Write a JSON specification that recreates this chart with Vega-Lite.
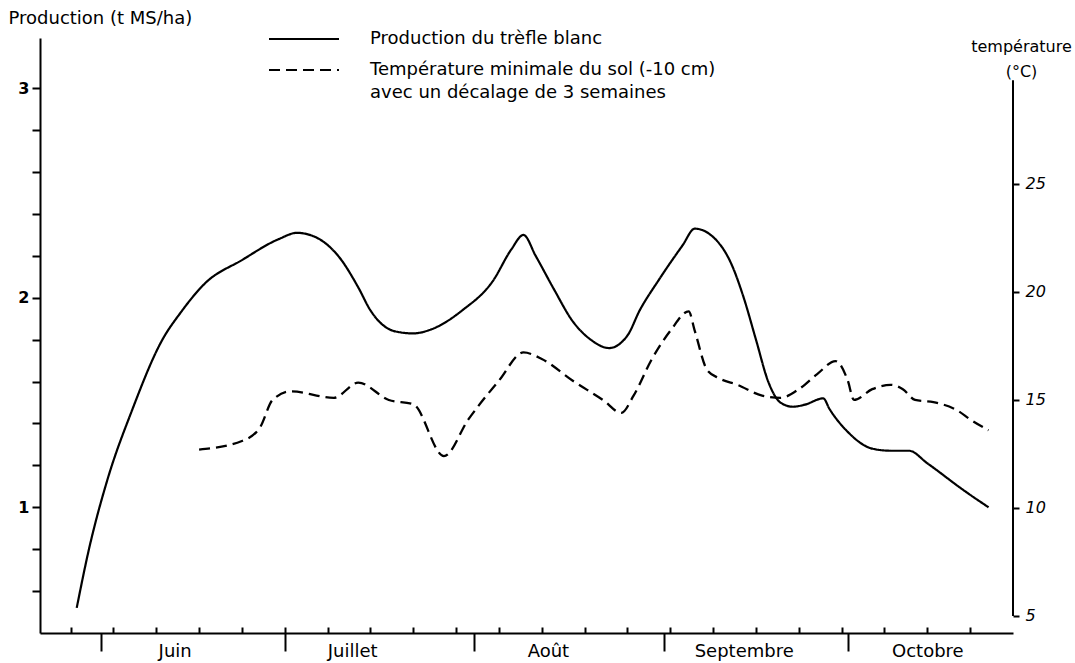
{
  "$schema": "https://vega.github.io/schema/vega-lite/v6.json",
  "width": 973,
  "height": 595,
  "autosize": {"type": "none"},
  "padding": {"left": 40, "top": 38, "right": 62, "bottom": 30},
  "background": "white",
  "config": {
    "view": {"stroke": null},
    "font": "DejaVu Sans",
    "axis": {"domainColor": "black", "tickColor": "black", "labelColor": "black", "titleColor": "black", "domainWidth": 2, "tickWidth": 2, "grid": false, "labelFontSize": 16, "titleFontSize": 18, "titleFontWeight": "normal"}
  },
  "datasets": {
    "production": [
      {"date": "1980-05-28", "production": 0.52},
      {"date": "1980-05-30", "production": 0.80},
      {"date": "1980-06-02", "production": 1.13},
      {"date": "1980-06-06", "production": 1.46},
      {"date": "1980-06-11", "production": 1.80},
      {"date": "1980-06-14", "production": 1.93},
      {"date": "1980-06-18", "production": 2.07},
      {"date": "1980-06-24", "production": 2.18},
      {"date": "1980-06-30", "production": 2.28},
      {"date": "1980-07-03", "production": 2.31},
      {"date": "1980-07-06", "production": 2.29},
      {"date": "1980-07-10", "production": 2.19},
      {"date": "1980-07-13", "production": 2.05},
      {"date": "1980-07-15", "production": 1.94},
      {"date": "1980-07-19", "production": 1.84},
      {"date": "1980-07-22", "production": 1.83},
      {"date": "1980-07-25", "production": 1.85},
      {"date": "1980-07-30", "production": 1.94},
      {"date": "1980-08-04", "production": 2.08},
      {"date": "1980-08-07", "production": 2.23},
      {"date": "1980-08-09", "production": 2.30},
      {"date": "1980-08-11", "production": 2.20},
      {"date": "1980-08-14", "production": 2.04},
      {"date": "1980-08-17", "production": 1.89},
      {"date": "1980-08-20", "production": 1.80},
      {"date": "1980-08-23", "production": 1.76},
      {"date": "1980-08-26", "production": 1.82},
      {"date": "1980-08-28", "production": 1.94},
      {"date": "1980-08-31", "production": 2.08},
      {"date": "1980-09-04", "production": 2.25},
      {"date": "1980-09-06", "production": 2.33},
      {"date": "1980-09-09", "production": 2.29},
      {"date": "1980-09-12", "production": 2.16},
      {"date": "1980-09-14", "production": 2.00},
      {"date": "1980-09-16", "production": 1.80},
      {"date": "1980-09-18", "production": 1.60},
      {"date": "1980-09-20", "production": 1.50},
      {"date": "1980-09-22", "production": 1.48},
      {"date": "1980-09-24", "production": 1.49},
      {"date": "1980-09-27", "production": 1.52},
      {"date": "1980-09-28", "production": 1.47},
      {"date": "1980-10-01", "production": 1.36},
      {"date": "1980-10-05", "production": 1.28},
      {"date": "1980-10-08", "production": 1.27},
      {"date": "1980-10-11", "production": 1.27},
      {"date": "1980-10-14", "production": 1.21},
      {"date": "1980-10-20", "production": 1.08},
      {"date": "1980-10-24", "production": 1.00}
    ],
    "temperature": [
      {"date": "1980-06-17", "temperature": 12.7},
      {"date": "1980-06-24", "temperature": 13.1},
      {"date": "1980-06-27", "temperature": 13.75},
      {"date": "1980-06-29", "temperature": 15.0},
      {"date": "1980-07-02", "temperature": 15.4},
      {"date": "1980-07-09", "temperature": 15.1},
      {"date": "1980-07-13", "temperature": 15.8},
      {"date": "1980-07-18", "temperature": 15.0},
      {"date": "1980-07-22", "temperature": 14.8},
      {"date": "1980-07-27", "temperature": 12.4},
      {"date": "1980-07-31", "temperature": 14.1},
      {"date": "1980-08-05", "temperature": 15.9},
      {"date": "1980-08-09", "temperature": 17.2},
      {"date": "1980-08-12", "temperature": 16.9},
      {"date": "1980-08-17", "temperature": 15.9},
      {"date": "1980-08-22", "temperature": 15.0},
      {"date": "1980-08-25", "temperature": 14.4},
      {"date": "1980-08-27", "temperature": 15.2},
      {"date": "1980-08-30", "temperature": 16.9},
      {"date": "1980-09-02", "temperature": 18.2},
      {"date": "1980-09-05", "temperature": 19.1},
      {"date": "1980-09-06", "temperature": 18.2},
      {"date": "1980-09-08", "temperature": 16.4},
      {"date": "1980-09-10", "temperature": 16.0},
      {"date": "1980-09-13", "temperature": 15.7},
      {"date": "1980-09-17", "temperature": 15.2},
      {"date": "1980-09-20", "temperature": 15.1},
      {"date": "1980-09-23", "temperature": 15.5},
      {"date": "1980-09-26", "temperature": 16.2},
      {"date": "1980-09-29", "temperature": 16.8},
      {"date": "1980-10-01", "temperature": 15.9},
      {"date": "1980-10-02", "temperature": 15.0},
      {"date": "1980-10-05", "temperature": 15.5},
      {"date": "1980-10-08", "temperature": 15.7},
      {"date": "1980-10-10", "temperature": 15.5},
      {"date": "1980-10-12", "temperature": 15.0},
      {"date": "1980-10-15", "temperature": 14.9},
      {"date": "1980-10-19", "temperature": 14.5},
      {"date": "1980-10-21", "temperature": 14.1},
      {"date": "1980-10-24", "temperature": 13.6}
    ],
    "axe": [
      {"date": "1980-10-28", "bas": 5, "haut": 29.8}
    ]
  },
  "resolve": {"scale": {"y": "independent"}, "axis": {"x": "independent", "y": "independent"}},
  "layer": [
    {
      "data": {"name": "production"},
      "mark": {"type": "line", "interpolate": "monotone", "color": "black", "strokeWidth": 2.2},
      "encoding": {
        "x": {
          "field": "date", "type": "temporal",
          "scale": {"type": "utc", "domain": [{"year": 1980, "month": 5, "date": 22, "utc": true}, {"year": 1980, "month": 10, "date": 28, "utc": true}]},
          "axis": {
            "orient": "bottom", "title": null, "labels": false, "domain": true, "tickSize": -6,
            "values": [
              {"year": 1980, "month": 5, "date": 27, "utc": true},
              {"year": 1980, "month": 6, "date": 3, "utc": true},
              {"year": 1980, "month": 6, "date": 10, "utc": true},
              {"year": 1980, "month": 6, "date": 17, "utc": true},
              {"year": 1980, "month": 6, "date": 24, "utc": true},
              {"year": 1980, "month": 7, "date": 1, "utc": true},
              {"year": 1980, "month": 7, "date": 8, "utc": true},
              {"year": 1980, "month": 7, "date": 15, "utc": true},
              {"year": 1980, "month": 7, "date": 22, "utc": true},
              {"year": 1980, "month": 7, "date": 29, "utc": true},
              {"year": 1980, "month": 8, "date": 5, "utc": true},
              {"year": 1980, "month": 8, "date": 12, "utc": true},
              {"year": 1980, "month": 8, "date": 19, "utc": true},
              {"year": 1980, "month": 8, "date": 26, "utc": true},
              {"year": 1980, "month": 9, "date": 2, "utc": true},
              {"year": 1980, "month": 9, "date": 9, "utc": true},
              {"year": 1980, "month": 9, "date": 16, "utc": true},
              {"year": 1980, "month": 9, "date": 23, "utc": true},
              {"year": 1980, "month": 9, "date": 30, "utc": true},
              {"year": 1980, "month": 10, "date": 7, "utc": true},
              {"year": 1980, "month": 10, "date": 14, "utc": true},
              {"year": 1980, "month": 10, "date": 21, "utc": true}
            ]
          }
        },
        "y": {
          "field": "production", "type": "quantitative",
          "scale": {"domain": [0.4, 3.24], "nice": false, "zero": false},
          "axis": {
            "orient": "left",
            "values": [0.6, 0.8, 1, 1.2, 1.4, 1.6, 1.8, 2, 2.2, 2.4, 2.6, 2.8, 3],
            "labelExpr": "datum.value == 1 || datum.value == 2 || datum.value == 3 ? format(datum.value, 'd') : ''",
            "tickSize": 8, "labelPadding": 3, "labelFontWeight": "bold", "labelFontSize": 16,
            "title": "Production (t MS/ha)", "titleAngle": 0, "titleAlign": "left", "titleBaseline": "middle",
            "titleX": -32, "titleY": -20, "titleFontSize": 18
          }
        },
        "strokeDash": {
          "datum": "Production du trèfle blanc", "type": "nominal",
          "scale": {"domain": ["Production du trèfle blanc", "Température minimale du sol (-10 cm)"], "range": [[1, 0], [11, 6]]},
          "legend": {
            "orient": "none", "legendX": 228, "legendY": -9, "title": null, "padding": 0,
            "symbolType": "stroke", "symbolSize": 4900, "symbolStrokeWidth": 2, "symbolStrokeColor": "black",
            "clipHeight": 20, "rowPadding": 11, "labelOffset": 30, "labelFontSize": 18, "labelColor": "black",
            "labelLimit": 600, "labelBaseline": "middle",
            "labelExpr": "datum.label === 'Température minimale du sol (-10 cm)' ? ['Température minimale du sol (-10 cm)', 'avec un décalage de 3 semaines'] : datum.label",
            "encode": {"labels": {"update": {"lineHeight": {"value": 23}}}}
          }
        }
      }
    },
    {
      "data": {"name": "temperature"},
      "mark": {"type": "line", "interpolate": "monotone", "color": "black", "strokeWidth": 2.3},
      "encoding": {
        "x": {
          "field": "date", "type": "temporal",
          "scale": {"type": "utc", "domain": [{"year": 1980, "month": 5, "date": 22, "utc": true}, {"year": 1980, "month": 10, "date": 28, "utc": true}]},
          "axis": {
            "orient": "bottom", "title": null, "labels": false, "domain": false, "tickSize": 18,
            "values": [
              {"year": 1980, "month": 6, "date": 1, "utc": true},
              {"year": 1980, "month": 7, "date": 1, "utc": true},
              {"year": 1980, "month": 8, "date": 1, "utc": true},
              {"year": 1980, "month": 9, "date": 1, "utc": true},
              {"year": 1980, "month": 10, "date": 1, "utc": true}
            ]
          }
        },
        "y": {
          "field": "temperature", "type": "quantitative",
          "scale": {"domain": [4.21, 31.76], "nice": false, "zero": false},
          "axis": {
            "orient": "right", "values": [5, 10, 15, 20, 25], "domain": false, "tickSize": 6, "labelPadding": 6,
            "labelFontStyle": "italic", "labelFontSize": 16,
            "title": ["température", "(°C)"], "titleAngle": 0, "titleAlign": "center", "titleBaseline": "top",
            "titleX": 8, "titleY": 0, "titleFontSize": 16, "titleLineHeight": 25
          }
        },
        "strokeDash": {
          "datum": "Température minimale du sol (-10 cm)", "type": "nominal",
          "scale": {"domain": ["Production du trèfle blanc", "Température minimale du sol (-10 cm)"], "range": [[1, 0], [11, 6]]}
        }
      }
    },
    {
      "data": {"name": "axe"},
      "mark": {"type": "rule", "color": "black", "strokeWidth": 2},
      "encoding": {
        "x": {
          "field": "date", "type": "temporal",
          "scale": {"type": "utc", "domain": [{"year": 1980, "month": 5, "date": 22, "utc": true}, {"year": 1980, "month": 10, "date": 28, "utc": true}]},
          "axis": {
            "orient": "bottom", "title": null, "ticks": false, "tickSize": 0, "domain": false, "labelPadding": 9,
            "labelFontSize": 18, "labelBaseline": "top",
            "labelExpr": "['Janvier','Février','Mars','Avril','Mai','Juin','Juillet','Août','Septembre','Octobre','Novembre','Décembre'][utcmonth(datum.value)]",
            "values": [
              {"year": 1980, "month": 6, "date": 13, "utc": true},
              {"year": 1980, "month": 7, "date": 12, "utc": true},
              {"year": 1980, "month": 8, "date": 13, "utc": true},
              {"year": 1980, "month": 9, "date": 14, "utc": true},
              {"year": 1980, "month": 10, "date": 14, "utc": true}
            ]
          }
        },
        "y": {"field": "bas", "type": "quantitative", "scale": {"domain": [4.21, 31.76], "nice": false, "zero": false}, "axis": null},
        "y2": {"field": "haut"}
      }
    }
  ]
}
